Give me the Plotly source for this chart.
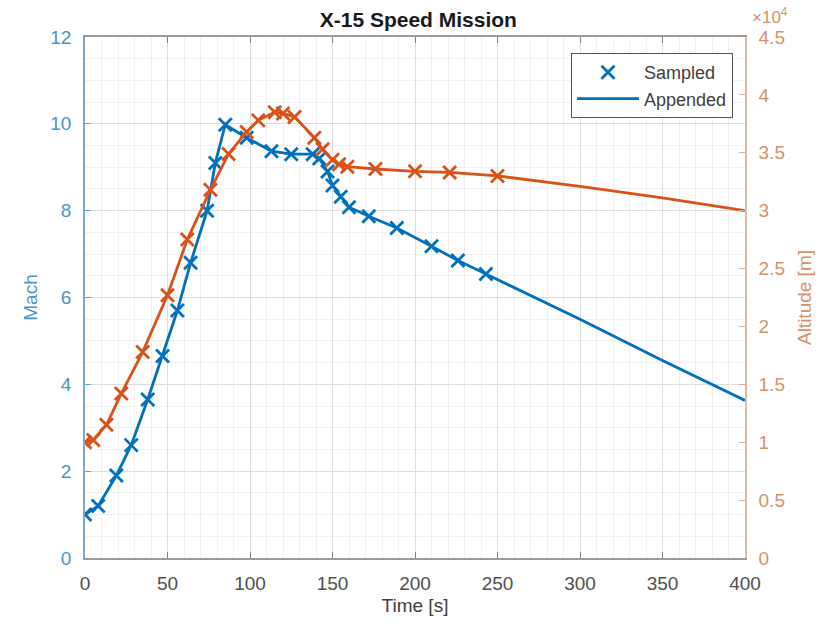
import plotly.graph_objects as go

# ---- data ----
time_mach = [0, 8, 19, 28, 38, 47, 56, 64, 74, 79, 85, 98, 113, 125, 138, 142, 147, 150, 155, 160, 172, 189, 210, 226, 243]
mach = [1.0, 1.2, 1.9, 2.6, 3.65, 4.65, 5.7, 6.8, 8.0, 9.1, 9.98, 9.68, 9.37, 9.3, 9.3, 9.2, 8.9, 8.58, 8.32, 8.08, 7.87, 7.6, 7.18, 6.85, 6.54]
time_mach_appended = [300, 350, 400]
mach_appended = [5.5, 4.55, 3.63]

time_alt = [0, 5, 13, 22, 35, 50, 62, 76, 87, 98, 105, 115, 120, 127, 139, 144, 150, 154, 159, 176, 200, 221, 250]
alt = [10000, 10200, 11500, 14200, 17800, 22700, 27500, 31800, 34900, 36800, 37800, 38500, 38400, 38100,
       36300, 35300, 34400, 34000, 33800, 33600, 33400, 33300, 33000]
time_alt_appended = [300, 350, 400]
alt_appended = [32100, 31100, 30000]

x_ticks = [0, 50, 100, 150, 200, 250, 300, 350, 400]
mach_ticks = [0, 2, 4, 6, 8, 10, 12]
alt_ticks = [0, 5000, 10000, 15000, 20000, 25000, 30000, 35000, 40000, 45000]
alt_tick_text = ["0", "0.5", "1", "1.5", "2", "2.5", "3", "3.5", "4", "4.5"]

BLUE = "#0072BD"
ORANGE = "#D95319"
FONT = "Liberation Sans, Arial, sans-serif"

fig = go.Figure()

# Altitude (right axis)
fig.add_trace(go.Scatter(
    x=time_alt + time_alt_appended, y=alt + alt_appended, mode="lines",
    line=dict(color=ORANGE, width=2.8), yaxis="y2", showlegend=False, hoverinfo="skip"))
fig.add_trace(go.Scatter(
    x=time_alt, y=alt, mode="markers", yaxis="y2", showlegend=False,
    marker=dict(symbol="x-thin-open", size=13, color=ORANGE, line=dict(color=ORANGE, width=2.8))))

# Mach (left axis)
fig.add_trace(go.Scatter(
    x=time_mach, y=mach, mode="markers", name="Sampled",
    marker=dict(symbol="x-thin-open", size=13, color=BLUE, line=dict(color=BLUE, width=2.8))))
fig.add_trace(go.Scatter(
    x=time_mach + time_mach_appended, y=mach + mach_appended, mode="lines", name="Appended",
    line=dict(color=BLUE, width=2.8)))

fig.update_layout(
    width=833, height=625,
    margin=dict(l=85, r=88, t=37, b=65),
    paper_bgcolor="white", plot_bgcolor="white",
    font=dict(family=FONT, size=18, color="#404040"),
    title=dict(text="<b>X-15 Speed Mission</b>", x=(85 + 745) / 2 / 833 + 0.004, xanchor="center",
               y=1 - 20 / 625, yanchor="middle", font=dict(size=21, color="#1a1a1a")),
    xaxis=dict(
        range=[0, 400], tickvals=x_ticks, ticks="inside", ticklen=6, tickcolor="#808080",
        showline=True, linecolor="#9a9a9a", linewidth=1.5, mirror="ticks",
        showgrid=True, gridcolor="#dedede", gridwidth=1,
        minor=dict(dtick=10, showgrid=True, gridcolor="#f0f0f0", ticks=""),
        zeroline=False, tickfont=dict(size=19, color="#505050"),
        ticklabelstandoff=7,
        title=dict(text="Time [s]", font=dict(size=19, color="#404040"), standoff=6)),
    yaxis=dict(
        range=[0, 12], tickvals=mach_ticks, ticks="inside", ticklen=6, tickcolor="#6a9cc0",
        showline=True, linecolor="#7fa6c2", linewidth=1.5,
        showgrid=True, gridcolor="#dedede", gridwidth=1,
        minor=dict(dtick=0.5, showgrid=True, gridcolor="#f0f0f0", ticks=""),
        zeroline=False, tickfont=dict(size=19, color="#4a95c8"),
        ticklabelstandoff=8,
        title=dict(text="Mach", font=dict(size=19, color="#4a95c8"), standoff=8)),
    yaxis2=dict(
        range=[0, 45000], overlaying="y", side="right", tickvals=alt_ticks, ticktext=alt_tick_text,
        ticks="inside", ticklen=6, tickcolor="#d4b09a",
        showline=True, linecolor="#d9bba6", linewidth=1.5, showgrid=False, zeroline=False,
        tickfont=dict(size=19, color="#d5926a"),
        ticklabelstandoff=8,
        title=dict(text="Altitude [m]", font=dict(size=19, color="#d5926a"), standoff=14)),
    legend=dict(
        x=(733 - 85) / 660, xanchor="right", y=(560 - 53) / 523, yanchor="top",
        bgcolor="white", bordercolor="#555555", borderwidth=1,
        font=dict(size=18, color="#404040"), itemwidth=62, tracegroupgap=0),
    annotations=[dict(
        text="×10<sup>4</sup>", xref="paper", yref="paper",
        x=(770 - 85) / 660, y=(560 - 16) / 523, xanchor="center", yanchor="middle",
        showarrow=False, font=dict(size=17, color="#d5926a"))],
)

fig.write_html("out.html")
